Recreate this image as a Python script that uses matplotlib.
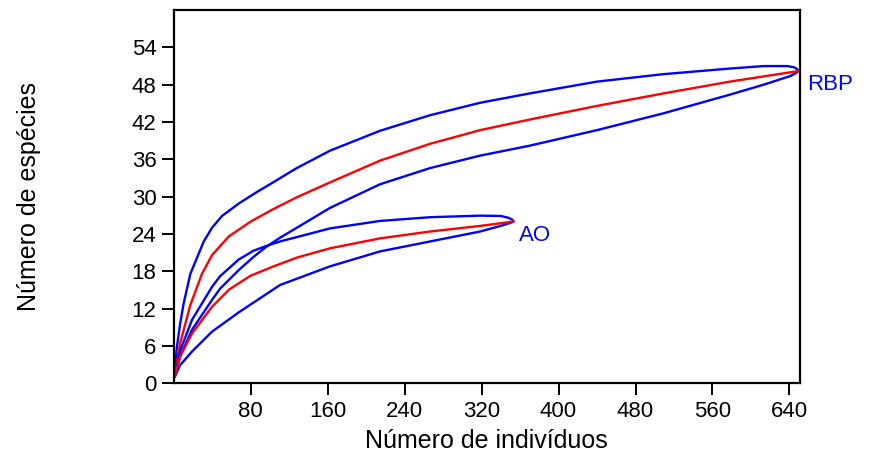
import matplotlib
matplotlib.use("Agg")
import matplotlib.pyplot as plt

plt.rcParams['font.family'] = ['Liberation Sans', 'DejaVu Sans']

# RBP curves (number of individuals vs number of species)
rbp_x_mean = [1, 6.6, 17.3, 29.4, 39.8, 57.2, 80, 102.2, 127.9, 162.5,
              214.5, 266.5, 318.5, 370, 440, 509, 578, 649.4]
rbp_y_mean = [1, 6.4, 12.6, 17.6, 20.6, 23.6, 26.0, 27.9, 29.9, 32.3,
              35.8, 38.5, 40.7, 42.4, 44.6, 46.6, 48.5, 50.2]

rbp_x_upper = [1, 3, 6.6, 10.4, 17.3, 31.2, 39.8, 50.2, 67.6, 84.9, 102.2, 127.9, 162.5,
               214.5, 266.5, 318.5, 370, 440, 509, 578, 613, 638, 645, 648, 649.4]
rbp_y_upper = [1, 5.5, 9.5, 12.9, 17.6, 22.8, 25.0, 26.9, 28.9, 30.6, 32.2, 34.6, 37.4,
               40.6, 43.1, 45.1, 46.6, 48.5, 49.7, 50.6, 51.0, 51.0, 50.8, 50.5, 50.2]

rbp_x_lower = [1, 6.6, 19.0, 39.8, 48.1, 67.6, 82.8, 96.7, 110.5, 127.9, 162.5,
               214.5, 266.5, 318.5, 370, 440, 509, 578, 613, 641, 647, 649.4]
rbp_y_lower = [1, 4.3, 8.6, 13.4, 15.2, 18.2, 20.3, 22.0, 23.4, 25.0, 28.2,
               32.0, 34.6, 36.6, 38.2, 40.7, 43.4, 46.4, 48.0, 49.4, 49.9, 50.2]

# AO curves
ao_x_mean = [1, 6.6, 19.0, 39.8, 57.8, 80, 102.2, 127.9, 162.5, 214.5, 266.5, 318.5, 353.1]
ao_y_mean = [1, 4.3, 8.0, 12.3, 15.1, 17.3, 18.7, 20.2, 21.7, 23.3, 24.4, 25.3, 26.0]

ao_x_upper = [1, 6.6, 19.0, 39.8, 48.1, 67.6, 82.8, 96.7, 110.5, 127.9, 162.5,
              214.5, 266.5, 318.5, 340, 348, 352, 353.1]
ao_y_upper = [1, 5.2, 10.2, 15.5, 17.2, 19.9, 21.3, 22.1, 22.8, 23.5, 24.9,
              26.1, 26.7, 26.95, 26.9, 26.6, 26.3, 26.0]

ao_x_lower = [1, 6.6, 19.0, 39.8, 67.6, 110.5, 162.5, 214.5, 266.5, 318.5, 342, 350, 353.1]
ao_y_lower = [1, 2.9, 5.1, 8.3, 11.4, 15.8, 18.8, 21.2, 22.8, 24.4, 25.4, 25.8, 26.0]

x_ticks = [80, 160, 240, 320, 400, 480, 560, 640]
y_ticks = [0, 6, 12, 18, 24, 30, 36, 42, 48, 54]

fig = plt.figure(figsize=(8.73, 4.59), dpi=100)
ax = fig.add_axes([0.199, 0.165, 0.7174, 0.813])

blue = '#0000ff'
red = '#ff0000'
lw = 1.7
kw = dict(lw=lw, solid_joinstyle='round', solid_capstyle='round')

ax.plot(rbp_x_upper, rbp_y_upper, color=blue, **kw)
ax.plot(rbp_x_lower, rbp_y_lower, color=blue, **kw)
ax.plot(rbp_x_mean, rbp_y_mean, color=red, **kw)
ax.plot(ao_x_upper, ao_y_upper, color=blue, **kw)
ax.plot(ao_x_lower, ao_y_lower, color=blue, **kw)
ax.plot(ao_x_mean, ao_y_mean, color=red, **kw)

ax.text(658, 48, 'RBP', color=blue, fontsize=16, va='center', ha='left', clip_on=False)
ax.text(359, 23.8, 'AO', color=blue, fontsize=16, va='center', ha='left')

ax.set_xlim(0, 651)
ax.set_ylim(0, 60)
ax.set_xticks(x_ticks)
ax.set_yticks(y_ticks)
ax.tick_params(axis='both', direction='out', length=8.5, width=1.4, labelsize=16, pad=4)
for s in ax.spines.values():
    s.set_linewidth(1.6)

ax.set_xlabel('Número de indivíduos', fontsize=18)
ax.set_ylabel('Número de espécies', fontsize=18)
ax.xaxis.set_label_coords(0.5, -0.122)
ax.yaxis.set_label_coords(-0.212, 0.5)

fig.savefig('out.png', dpi=100)
